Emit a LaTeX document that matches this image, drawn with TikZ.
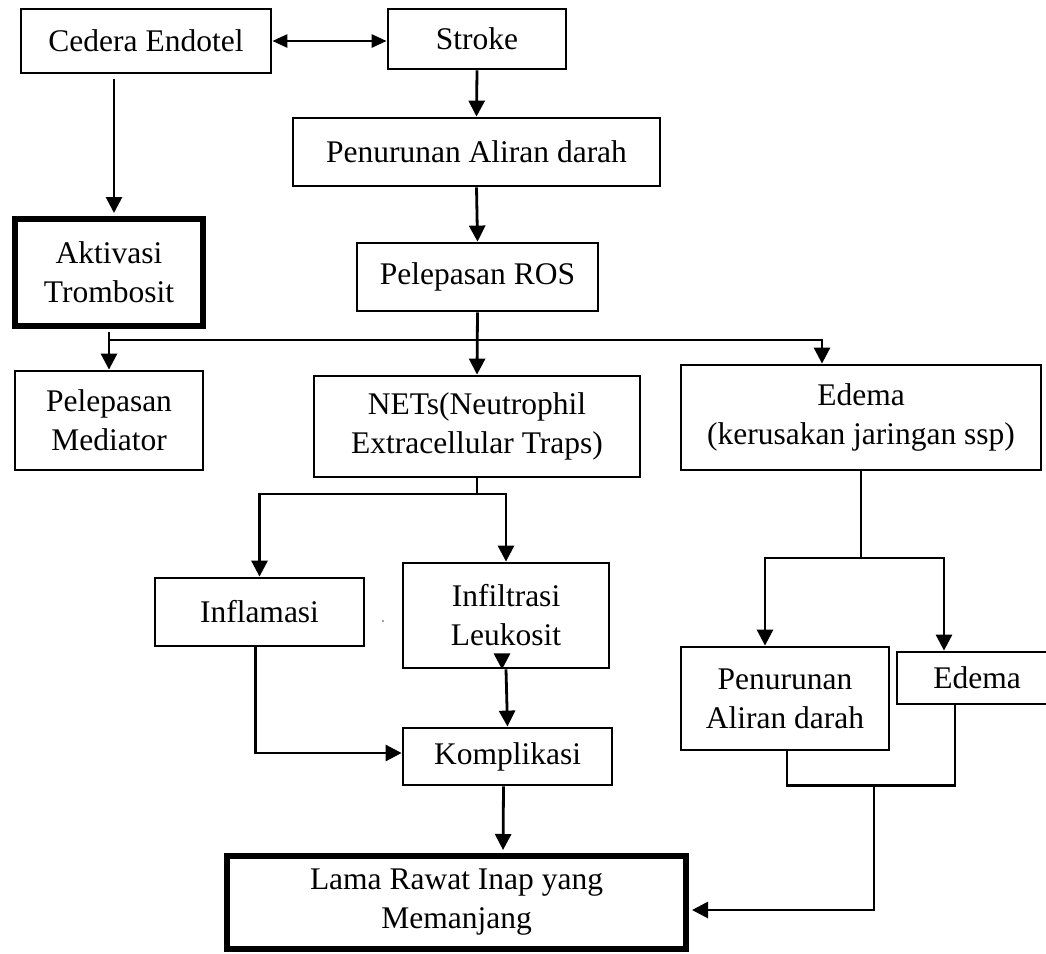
\documentclass[tikz,border=0pt]{standalone}
\usepackage{fontspec}
\setmainfont{Liberation Serif}
\usetikzlibrary{arrows.meta,calc}
\begin{document}
\begin{tikzpicture}[x=1pt,y=-1pt,
  box/.style={draw,line width=2.8pt,inner sep=0pt,align=center,font=\fontsize{31.5}{39}\selectfont},
  thickbox/.style={box,line width=6pt},
  ln/.style={line width=2.8pt},
  arr/.style={ln,-{Triangle[length=16pt,width=16pt]}},
  darr/.style={ln,{Triangle[length=15pt,width=13pt]}-{Triangle[length=15pt,width=13pt]}}]
\useasboundingbox (0,0) rectangle (1046,953);
% boxes
\node[box,minimum width=250pt,minimum height=64pt] (cedera) at (146,41) {Cedera Endotel};
\node[box,minimum width=178pt,minimum height=60pt] (stroke) at (477,39) {Stroke};
\node[box,minimum width=367pt,minimum height=68pt] (penA) at (476.5,152) {Penurunan Aliran darah};
\node[box,minimum width=241pt,minimum height=68pt] (ros) at (477.5,277) {Pelepasan ROS};
\node[thickbox,minimum width=188pt,minimum height=107pt] (aktivasi) at (109,272.5) {Aktivasi\\Trombosit};
\node[box,minimum width=188pt,minimum height=99pt] (mediator) at (109,420.5) {Pelepasan\\Mediator};
\node[box,minimum width=326pt,minimum height=101pt] (nets) at (477,426.5) {NETs(Neutrophil\\Extracellular Traps)};
\node[box,minimum width=360pt,minimum height=105pt] (edemaBig) at (861,417.5) {Edema\\(kerusakan jaringan ssp)};
\node[box,minimum width=209pt,minimum height=68pt] (inflamasi) at (259.5,612) {Inflamasi};
\node[box,minimum width=206pt,minimum height=105pt] (infiltrasi) at (506,615.5) {Infiltrasi\\Leukosit};
\node[box,minimum width=208pt,minimum height=103pt] (penB) at (785,698.5) {Penurunan\\Aliran darah};
\node[box,minimum width=160pt,minimum height=52pt] (edemaS) at (977,678) {Edema};
\node[box,minimum width=209pt,minimum height=57pt] (kompl) at (507.5,756.5) {Komplikasi};
\node[thickbox,minimum width=459pt,minimum height=93pt] (lama) at (456.5,902.5) {Lama Rawat Inap yang\\Memanjang};
\fill[gray] (383,621) circle (1.1pt);
% connectors
\draw[darr] (cedera.east) -- (cedera.east -| stroke.west);
\draw[arr] (stroke.south) -- (penA.north);
\draw[arr,shorten >=3pt] ($(cedera.south)+(-32,5)$) -- ($(aktivasi.north)+(5,0)$);
\draw[arr] (penA.south) -- (ros.north);
\draw[arr] (ros.south) -- (nets.north);
\draw[arr,shorten <=3pt] (aktivasi.south) -- (mediator.north);
\coordinate (b1) at (110,340);
\draw[arr] (b1) -| ($(edemaBig.north)+(-39,0)$);
\coordinate (n1) at (477,494);
\draw[ln] (nets.south) -- (n1);
\draw[arr] (n1) -| (inflamasi.north);
\draw[arr] (n1) -| (infiltrasi.north);
\draw[arr] ($(infiltrasi.south)+(-4,-3)$) -- ($(infiltrasi.south)+(-4,0)$);
\draw[arr] (infiltrasi.south) -- (kompl.north);
\draw[arr] ($(inflamasi.south)+(-4,0)$) |- ($(kompl.west)+(0,-3.5)$);
\draw[arr,shorten >=3pt] ($(kompl.south)+(-4,0)$) -- ($(lama.north)+(46.5,0)$);
\coordinate (e1) at (861,558);
\draw[ln] (edemaBig.south) -- (e1);
\draw[arr] (e1) -| ($(penB.north)+(-20,0)$);
\draw[arr] (e1) -| ($(edemaS.north)+(-33,0)$);
\draw[ln] ($(penB.south)+(2,0)$) -- ++(0,34) -| ($(edemaS.south)+(-22,0)$);
\coordinate (j1) at (874,784);
\draw[arr,shorten >=3pt] (j1) |- ($(lama.east)+(0,7.5)$);
\end{tikzpicture}
\end{document}
